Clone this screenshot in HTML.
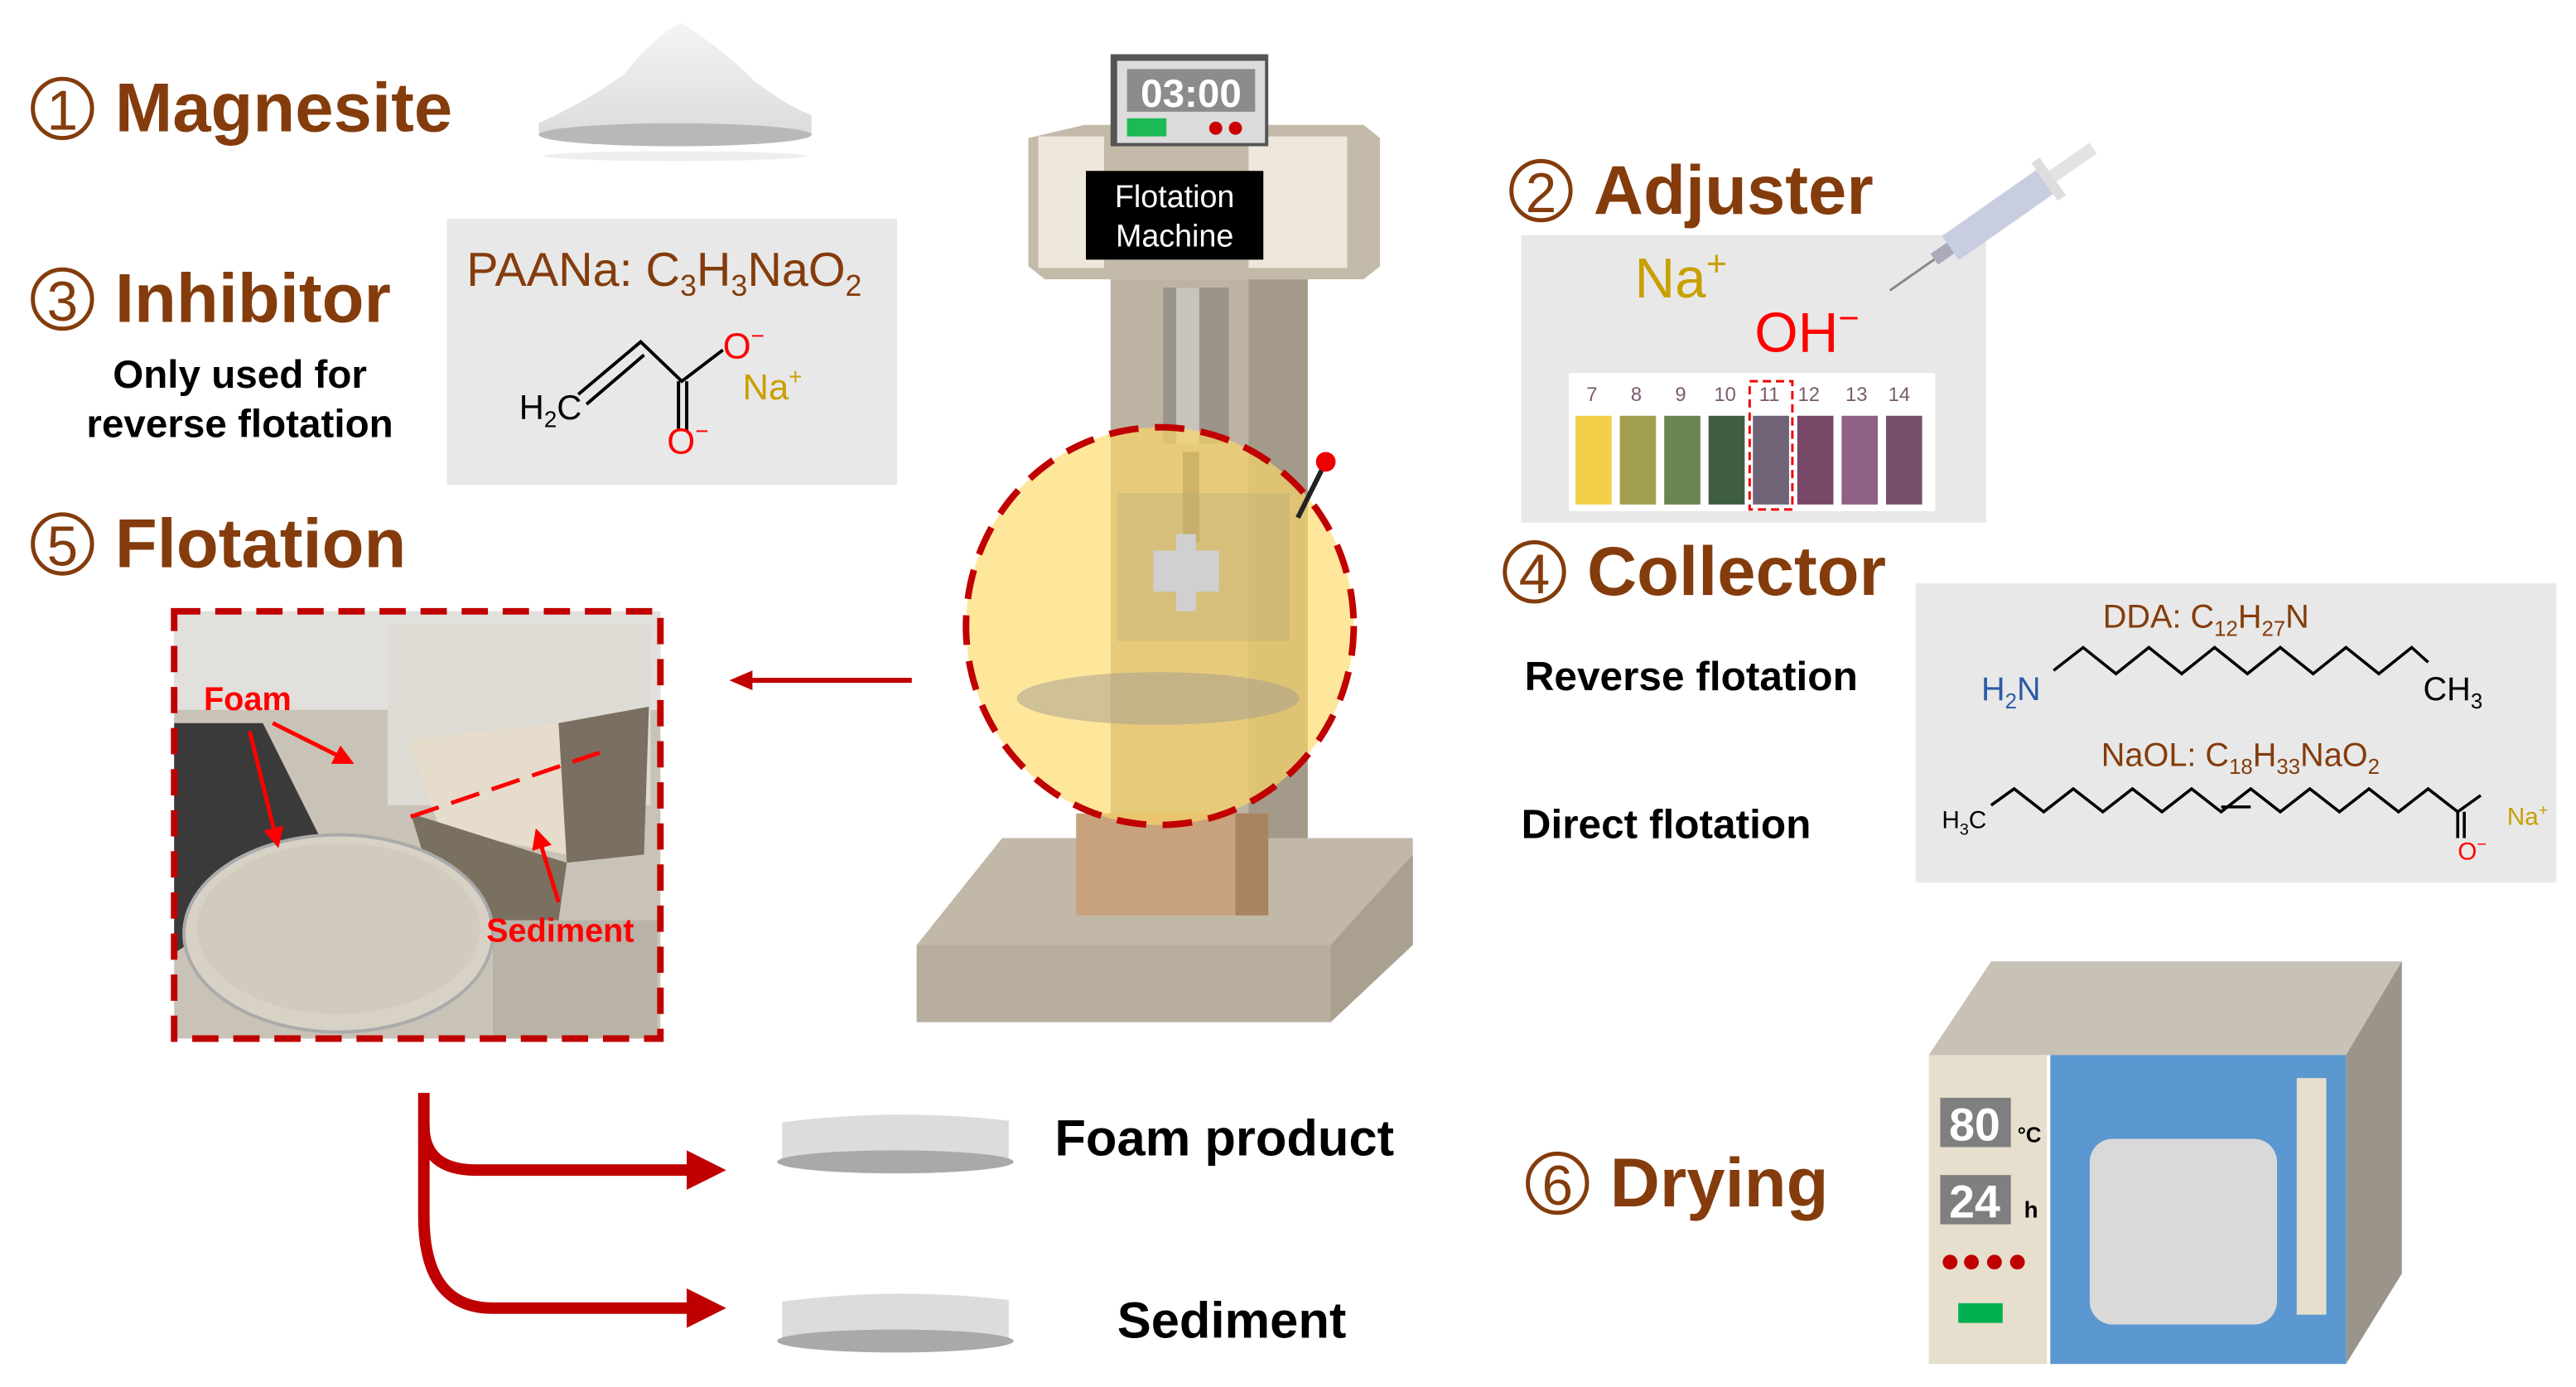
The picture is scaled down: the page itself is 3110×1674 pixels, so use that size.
<!DOCTYPE html>
<html><head><meta charset="utf-8"><style>
html,body{margin:0;padding:0;background:#fff;}
svg{display:block;}
text{font-family:"Liberation Sans",Arial,sans-serif;}
.h{font-weight:bold;fill:#843c0c;font-size:42px;}
.b{font-weight:bold;fill:#000;}
</style></head><body>
<svg width="3110" height="1674" viewBox="0 0 1568 844" preserveAspectRatio="none" xmlns="http://www.w3.org/2000/svg">
<defs>
<linearGradient id="pw" x1="0" y1="0" x2="0" y2="1"><stop offset="0" stop-color="#f4f4f4"/><stop offset="1" stop-color="#dcdcdc"/></linearGradient>
<marker id="ah2" markerWidth="5" markerHeight="5" refX="2.5" refY="2.5" orient="auto"><path d="M0,0 L5,2.5 L0,5z" fill="#ff0000"/></marker>
</defs>

<!-- 1 Magnesite -->
<circle cx="38" cy="66" r="18" fill="none" stroke="#843c0c" stroke-width="2.5"/>
<text x="38" y="79" text-anchor="middle" font-size="34" fill="#843c0c">1</text>
<text x="70" y="80" class="h">Magnesite</text>
<path d="M328,75 Q360,60 380,45 Q400,20 415,14 Q440,30 460,50 Q480,65 494,70 L494,82 L328,82z" fill="url(#pw)"/>
<ellipse cx="411" cy="82" rx="83" ry="7" fill="#b8b8b8"/>
<ellipse cx="411" cy="95" rx="80" ry="3" fill="#eee"/>

<!-- 3 Inhibitor -->
<circle cx="38" cy="182" r="18" fill="none" stroke="#843c0c" stroke-width="2.5"/>
<text x="38" y="195" text-anchor="middle" font-size="34" fill="#843c0c">3</text>
<text x="70" y="196" class="h">Inhibitor</text>
<text x="146" y="236" text-anchor="middle" class="b" font-size="24">Only used for</text>
<text x="146" y="266" text-anchor="middle" class="b" font-size="24">reverse flotation</text>
<rect x="272" y="133" width="274" height="162" fill="#e8e8e8"/>
<text x="284" y="174" font-size="29" fill="#843c0c">PAANa: C<tspan font-size="18" dy="6">3</tspan><tspan dy="-6">H</tspan><tspan font-size="18" dy="6">3</tspan><tspan dy="-6">NaO</tspan><tspan font-size="18" dy="6">2</tspan></text>
<text x="316" y="255" font-size="21" fill="#000">H<tspan font-size="14" dy="5">2</tspan><tspan dy="-5">C</tspan></text>
<path d="M352,240 L390,208 L415,232 L440,213" stroke="#000" stroke-width="2" fill="none"/>
<path d="M357,246 L392,216" stroke="#000" stroke-width="2"/>
<path d="M413,232 V262 M418,232 V262" stroke="#000" stroke-width="2"/>
<text x="440" y="218" font-size="22" fill="#f00">O<tspan font-size="14" dy="-9">−</tspan></text>
<text x="452" y="243" font-size="22" fill="#c8a000">Na<tspan font-size="14" dy="-9">+</tspan></text>
<text x="406" y="276" font-size="22" fill="#f00">O<tspan font-size="14" dy="-9">−</tspan></text>

<!-- 5 Flotation -->
<circle cx="38" cy="331" r="18" fill="none" stroke="#843c0c" stroke-width="2.5"/>
<text x="38" y="344" text-anchor="middle" font-size="34" fill="#843c0c">5</text>
<text x="70" y="345" class="h">Flotation</text>

<!-- photo -->
<rect x="106" y="372" width="296" height="260" fill="#c9c2b6"/>
<rect x="106" y="372" width="296" height="60" fill="#e2e0dc"/>
<path d="M106,440 L160,440 L200,520 L106,580z" fill="#3a3a3a"/>
<rect x="236" y="380" width="160" height="110" fill="#dedbd4"/>
<path d="M248,450 L340,440 L345,520 L268,505z" fill="#e6dccb"/>
<path d="M340,440 L395,430 L392,520 L345,525z" fill="#7a6f60"/>
<path d="M250,495 L345,525 L340,560 L270,560z" fill="#7a7060"/>
<rect x="300" y="560" width="100" height="72" fill="#b9b2a6"/>
<ellipse cx="206" cy="568" rx="94" ry="60" fill="#d8d1c6" stroke="#aaa" stroke-width="2"/>
<ellipse cx="206" cy="565" rx="86" ry="52" fill="#d2cabd"/>
<rect x="106" y="372" width="296" height="260" fill="none" stroke="#c00000" stroke-width="4" stroke-dasharray="16,9"/>
<text x="124" y="432" font-size="20" font-weight="bold" fill="#ff0000">Foam</text>
<text x="296" y="573" font-size="20" font-weight="bold" fill="#ff0000">Sediment</text>
<path d="M166,440 L210,462" stroke="#f00" stroke-width="2.5" marker-end="url(#ah2)"/>
<path d="M152,445 L168,510" stroke="#f00" stroke-width="2.5" marker-end="url(#ah2)"/>
<path d="M250,497 L365,458" stroke="#f00" stroke-width="2.5" stroke-dasharray="18,8"/>
<path d="M340,549 L328,510" stroke="#f00" stroke-width="2.5" marker-end="url(#ah2)"/>

<!-- arrow to photo -->
<path d="M555,414 L452,414" stroke="#c00000" stroke-width="3"/>
<path d="M444,414 L458,408 L458,420z" fill="#c00000"/>

<!-- machine -->
<path d="M558,575 L610,510 L860,510 L860,575 L810,622 L558,622z" fill="#c2b8a8"/>
<path d="M558,575 L810,575 L810,622 L558,622z" fill="#b8ae9d"/>
<path d="M810,575 L860,520 L860,575 L810,622z" fill="#a9a090"/>
<rect x="676" y="170" width="120" height="340" fill="#bdb3a3"/>
<rect x="760" y="170" width="36" height="340" fill="#a39a8a"/>
<rect x="708" y="175" width="40" height="95" fill="#9b948a"/>
<rect x="716" y="175" width="14" height="95" fill="#c9c4bb"/>
<rect x="655" y="495" width="117" height="62" fill="#c8a27e"/>
<rect x="752" y="495" width="20" height="62" fill="#a88462"/>
<path d="M626,84 L660,76 L830,76 L840,84 L840,162 L830,170 L636,170 L626,162z" fill="#c4baa9"/>
<rect x="632" y="83" width="40" height="80" fill="#eee7dc"/>
<rect x="760" y="83" width="60" height="80" fill="#eee7dc"/>
<rect x="661" y="104" width="108" height="54" fill="#000"/>
<text x="715" y="126" text-anchor="middle" font-size="19" fill="#fff">Flotation</text>
<text x="715" y="150" text-anchor="middle" font-size="19" fill="#fff">Machine</text>
<rect x="676" y="33" width="96" height="56" fill="#555"/>
<rect x="680" y="37" width="90" height="50" fill="#dcdcdc"/>
<rect x="686" y="42" width="78" height="26" fill="#8c8c8c"/>
<text x="725" y="65" text-anchor="middle" font-size="24" font-weight="bold" fill="#fff">03:00</text>
<rect x="686" y="72" width="24" height="11" fill="#1db954"/>
<circle cx="740" cy="78" r="4" fill="#c00"/><circle cx="752" cy="78" r="4" fill="#c00"/>
<ellipse cx="706" cy="381" rx="118" ry="121" fill="#fdd866" fill-opacity="0.65" stroke="#c00000" stroke-width="4" stroke-dasharray="18,10"/>
<rect x="720" y="275" width="10" height="55" fill="#c4a860" opacity="0.7"/>
<rect x="680" y="300" width="105" height="90" fill="#b8a878" opacity="0.35"/>
<path d="M702,335 L742,335 L742,360 L702,360z M716,325 L728,325 L728,372 L716,372z" fill="#d0d0d0"/>
<ellipse cx="705" cy="425" rx="86" ry="16" fill="#a8a090" opacity="0.55"/>
<path d="M790,315 L805,285" stroke="#222" stroke-width="3"/>
<circle cx="807" cy="281" r="6" fill="#e00"/>

<!-- 2 Adjuster -->
<circle cx="938" cy="116" r="18" fill="none" stroke="#843c0c" stroke-width="2.5"/>
<text x="938" y="129" text-anchor="middle" font-size="34" fill="#843c0c">2</text>
<text x="970" y="130" class="h">Adjuster</text>
<rect x="926" y="143" width="283" height="175" fill="#e8e8e8"/>
<text x="995" y="181" font-size="34" fill="#c8a000">Na<tspan font-size="22" dy="-13">+</tspan></text>
<text x="1068" y="214" font-size="34" fill="#f00">OH<tspan font-size="22" dy="-13">−</tspan></text>
<g transform="translate(1220,128) rotate(-35)">
<rect x="-40" y="-9" width="70" height="18" fill="#c9cde0"/>
<rect x="30" y="-14" width="6" height="28" fill="#ddd"/>
<rect x="36" y="-4" width="30" height="8" fill="#e3e3e3"/>
<rect x="-52" y="-4" width="12" height="8" fill="#aab"/>
<path d="M-52,0 L-85,0" stroke="#888" stroke-width="1.5"/>
</g>
<rect x="955" y="227" width="223" height="84" fill="#fff"/>
<g font-size="12" fill="#7a5a6e" text-anchor="middle">
<text x="969" y="244">7</text><text x="996" y="244">8</text><text x="1023" y="244">9</text><text x="1050" y="244">10</text><text x="1077" y="244">11</text><text x="1101" y="244">12</text><text x="1130" y="244">13</text><text x="1156" y="244">14</text></g>
<rect x="959" y="253" width="22" height="54" fill="#f2d04a"/>
<rect x="986" y="253" width="22" height="54" fill="#a2a04e"/>
<rect x="1013" y="253" width="22" height="54" fill="#6a8552"/>
<rect x="1040" y="253" width="22" height="54" fill="#3f5e41"/>
<rect x="1067" y="253" width="22" height="54" fill="#706378"/>
<rect x="1094" y="253" width="22" height="54" fill="#774868"/>
<rect x="1121" y="253" width="22" height="54" fill="#8f6185"/>
<rect x="1148" y="253" width="22" height="54" fill="#75506d"/>
<rect x="1065" y="232" width="26" height="78" fill="none" stroke="#e00" stroke-width="1.5" stroke-dasharray="5,3"/>

<!-- 4 Collector -->
<circle cx="934" cy="348" r="18" fill="none" stroke="#843c0c" stroke-width="2.5"/>
<text x="934" y="361" text-anchor="middle" font-size="34" fill="#843c0c">4</text>
<text x="966" y="362" class="h">Collector</text>
<text x="928" y="420" class="b" font-size="25">Reverse flotation</text>
<text x="926" y="510" class="b" font-size="25">Direct flotation</text>
<rect x="1166" y="355" width="390" height="182" fill="#e8e8e8"/>
<text x="1280" y="382" font-size="20" fill="#843c0c">DDA: C<tspan font-size="13" dy="5">12</tspan><tspan dy="-5">H</tspan><tspan font-size="13" dy="5">27</tspan><tspan dy="-5">N</tspan></text>
<text x="1206" y="426" font-size="20" fill="#2e5aa8">H<tspan font-size="13" dy="5">2</tspan><tspan dy="-5">N</tspan></text>
<path d="M1250,408 L1268,394 L1288,410 L1308,394 L1328,410 L1348,394 L1368,410 L1388,394 L1408,410 L1428,394 L1448,410 L1468,394 L1478,403" stroke="#000" stroke-width="1.8" fill="none"/>
<text x="1475" y="426" font-size="20" fill="#000">CH<tspan font-size="13" dy="5">3</tspan></text>
<text x="1279" y="466" font-size="20" fill="#843c0c">NaOL: C<tspan font-size="13" dy="5">18</tspan><tspan dy="-5">H</tspan><tspan font-size="13" dy="5">33</tspan><tspan dy="-5">NaO</tspan><tspan font-size="13" dy="5">2</tspan></text>
<text x="1182" y="504" font-size="15" fill="#000">H<tspan font-size="10" dy="4">3</tspan><tspan dy="-4">C</tspan></text>
<path d="M1212,490 L1226,480 L1244,494 L1262,480 L1280,494 L1298,480 L1316,494 L1334,480 L1352,494 L1370,480 L1388,494 L1406,480 L1424,494 L1442,480 L1460,494 L1478,480 L1496,494 L1510,484 M1352,491 L1370,491 M1496,494 V510 M1500,494 V510" stroke="#000" stroke-width="1.8" fill="none"/>
<text x="1526" y="502" font-size="15" fill="#c8a000">Na<tspan font-size="10" dy="-6">+</tspan></text>
<text x="1496" y="523" font-size="15" fill="#f00">O<tspan font-size="10" dy="-6">−</tspan></text>

<!-- bottom arrows -->
<path d="M258,665 V685 Q258,712 290,712 H420" stroke="#c00000" stroke-width="7" fill="none"/>
<path d="M258,685 V740 Q258,796 300,796 H420" stroke="#c00000" stroke-width="7" fill="none"/>
<path d="M418,700 L442,712 L418,724z M418,784 L442,796 L418,808z" fill="#c00000"/>
<path d="M476,683 Q545,674 614,682 L614,706 L476,706z" fill="#dcdcdc"/>
<ellipse cx="545" cy="707" rx="72" ry="7" fill="#a9a9a9"/>
<path d="M476,792 Q545,783 614,791 L614,815 L476,815z" fill="#dcdcdc"/>
<ellipse cx="545" cy="816" rx="72" ry="7" fill="#a9a9a9"/>
<text x="642" y="703" class="b" font-size="31">Foam product</text>
<text x="680" y="814" class="b" font-size="31">Sediment</text>

<!-- 6 Drying -->
<circle cx="948" cy="720" r="18" fill="none" stroke="#843c0c" stroke-width="2.5"/>
<text x="948" y="733" text-anchor="middle" font-size="34" fill="#843c0c">6</text>
<text x="980" y="734" class="h">Drying</text>

<!-- oven -->
<path d="M1174,642 L1212,585 L1462,585 L1428,642z" fill="#c8c1b5"/>
<path d="M1428,642 L1462,585 L1462,775 L1428,830z" fill="#9a948a"/>
<rect x="1174" y="642" width="72" height="188" fill="#e6dfcd"/>
<rect x="1248" y="642" width="180" height="188" fill="#5b97d1"/>
<rect x="1272" y="693" width="114" height="113" rx="14" fill="#d9d9d9"/>
<rect x="1398" y="656" width="18" height="144" fill="#e6dfcd"/>
<rect x="1181" y="668" width="43" height="30" fill="#7f7f7f"/>
<text x="1202" y="694" text-anchor="middle" font-size="28" font-weight="bold" fill="#fff">80</text>
<text x="1228" y="695" font-size="13" font-weight="bold" fill="#000">°C</text>
<rect x="1181" y="715" width="43" height="30" fill="#7f7f7f"/>
<text x="1202" y="741" text-anchor="middle" font-size="28" font-weight="bold" fill="#fff">24</text>
<text x="1232" y="741" font-size="14" font-weight="bold" fill="#000">h</text>
<circle cx="1187" cy="768" r="4.5" fill="#c00000"/><circle cx="1200" cy="768" r="4.5" fill="#c00000"/><circle cx="1214" cy="768" r="4.5" fill="#c00000"/><circle cx="1228" cy="768" r="4.5" fill="#c00000"/>
<rect x="1192" y="793" width="27" height="12" fill="#00b050"/>
</svg>
</body></html>
